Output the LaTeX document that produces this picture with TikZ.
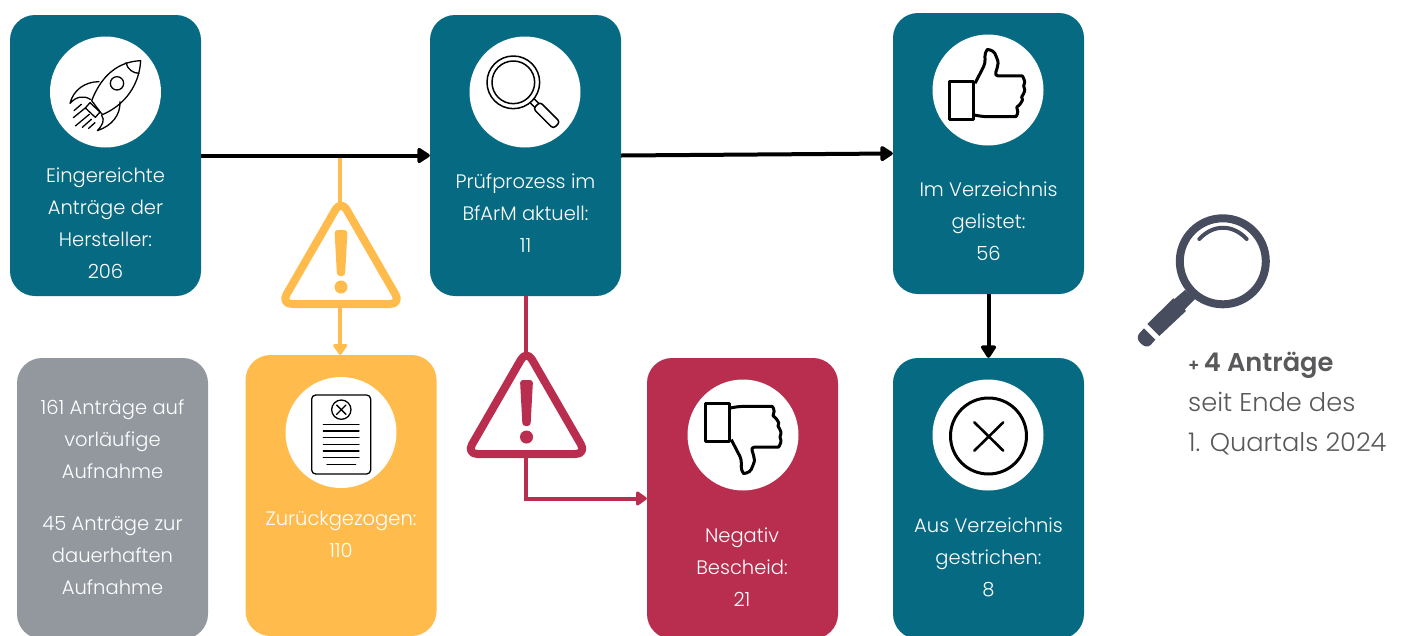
\documentclass[tikz,border=0pt]{standalone}
\usepackage{fontspec}
\setmainfont{Poppins}[UprightFont={* Light},BoldFont={* SemiBold}]
\usetikzlibrary{arrows.meta,calc}
\definecolor{tealc}{HTML}{066B82}
\definecolor{yellowc}{HTML}{FFBC4D}
\definecolor{redc}{HTML}{B92D4E}
\definecolor{greyc}{HTML}{93989F}
\definecolor{inkc}{HTML}{474C5F}
\definecolor{textc}{HTML}{59595B}
\tikzset{
  card/.style={rounded corners=25pt,minimum width=191pt,minimum height=281pt,inner sep=0pt,fill=#1},
  disc/.style={circle,fill=white,minimum size=111pt,inner sep=0pt},
  cardtext/.style={text=white,align=center,font=\fontsize{19.5}{32}\selectfont,inner sep=0pt},
  flow/.style={line width=4pt,draw=black,-{Triangle[length=14pt,width=17pt,round]}},
  sideflow/.style={line width=4pt,draw=#1,-{Triangle[length=12pt,width=16pt,round]}},
  sidetext/.style={anchor=base west,inner sep=0pt,text=textc,font=\fontsize{25.7}{40}\selectfont},
  icon/.style={line width=1.3pt,line cap=round,line join=round,draw=black},
  thumbicon/.style={line width=3pt,line join=round,draw=black}
}
\newcommand{\warnsign}[3]{%
  \begin{scope}[shift={(#1,#2)}]
    \draw[fill=white,draw=#3,line width=8pt,rounded corners=11pt,line join=round]
      (0,-8) -- (-60,96) -- (60,96) -- cycle;
    \fill[#3,rounded corners=3pt] (-6.5,22) -- (6.5,22) -- (4,68) -- (-4,68) -- cycle;
    \fill[#3] (0,79) circle (6.5);
  \end{scope}}
\newcommand{\thumbshape}{%
  \draw[thumbicon] (209,245) rectangle (280,360);
  \draw[thumbicon,rounded corners=4pt] (285,250) -- (316,190) -- (314,158)
    .. controls (322,148) and (340,150) .. (350,172)
    .. controls (356,190) and (350,210) .. (343,228)
    -- (415,228) .. controls (428,228) and (436,245) .. (427,258)
    .. controls (434,268) and (434,280) .. (420,290)
    .. controls (428,300) and (420,315) .. (405,320)
    .. controls (416,335) and (410,350) .. (395,350)
    -- (310,350) -- (282,345);}
\begin{document}
\begin{tikzpicture}[x=1pt,y=-1pt]
\useasboundingbox (0,0) rectangle (1402,635);
\clip (0,0) rectangle (1402,635);
% cards
\node[card=tealc]  (A) at (105.5,155.5) {};
\node[card=tealc]  (B) at (525.5,155.5) {};
\node[card=tealc]  (C) at (988.5,153.5) {};
\node[card=greyc]  (D) at (112.5,498.5) {};
\node[card=yellowc](E) at (341,495.5) {};
\node[card=redc]   (F) at (742.5,498.5) {};
\node[card=tealc]  (G) at (988.5,498.5) {};
% discs
\node[disc] (dA) at (105.5,92) {};
\node[disc] (dB) at (525,92) {};
\node[disc] (dC) at (988,90) {};
\node[disc] (dE) at (341,432.5) {};
\node[disc] (dF) at (743,435) {};
\node[disc] (dG) at (988,435) {};
% texts
\node[cardtext] (tA) at (105.5,223) {Eingereichte\\Anträge der\\Hersteller:\\206};
\node[cardtext] (tB) at (525.5,213) {Prüfprozess im\\BfArM aktuell:\\11};
\node[cardtext] (tC) at (988.5,221) {Im Verzeichnis\\gelistet:\\56};
\node[cardtext] (tD) at (112.5,497) {161 Anträge auf\\vorläufige\\Aufnahme\\[20pt]45 Anträge zur\\dauerhaften\\Aufnahme};
\node[cardtext] (tE) at (341,534) {Zurückgezogen:\\110};
\node[cardtext] (tF) at (742,567) {Negativ\\Bescheid:\\21};
\node[cardtext] (tG) at (988.5,557) {Aus Verzeichnis\\gestrichen:\\8};
% connectors
\coordinate (yt) at ($(A.east)!0.608!(B.west)+(0,1)$);
\draw[sideflow=yellowc] (yt) -- (yt |- E.north);
\draw[sideflow=redc] (B.south) |- (F.west);
\draw[flow] (A) -- (B.west);
\draw[flow] (B.east) -- (C.west);
\draw[flow] (C.south) -- (G.north);
% warning signs
\warnsign{341}{208}{yellowc}
\warnsign{526.5}{358}{redc}
% rocket
\begin{scope}[shift={(50,40)},x=0.3333pt,y=-0.3333pt]
  \draw[icon] (272,62) .. controls (205,65) and (155,105) .. (125,182)
    -- (157,224) .. controls (225,195) and (268,135) .. (272,62) -- cycle;
  \draw[icon] (228,68) .. controls (232,88) and (250,100) .. (267,100);
  \draw[icon] (201,130) circle (20);
  \draw[icon] (120,188) -- (106,204) -- (136,232) -- (150,216) -- cycle;
  \draw[icon] (147,125) .. controls (105,125) and (70,150) .. (60,190)
    .. controls (78,170) and (100,165) .. (121,178);
  \draw[icon] (210,185) .. controls (212,225) and (185,258) .. (142,272)
    .. controls (158,255) and (165,240) .. (155,226);
  \draw[icon] (72,212) -- (94,193);
  \draw[icon] (70,233) -- (107,203);
  \draw[icon] (76,258) -- (118,223);
  \draw[icon] (97,262) -- (124,238);
  \draw[icon] (116,265) -- (135,248);
\end{scope}
% lens
\begin{scope}[shift={(470,30)},x=0.3333pt,y=-0.3333pt]
  \draw[icon,line width=1.5pt] (130,157) circle (79);
  \draw[icon,line width=1.5pt] (130,157) circle (64);
  \draw[icon,line width=1.5pt] (181,219) -- (194,232) (193,207) -- (206,220);
  \draw[icon,line width=1.5pt,rounded corners=3pt] (190,236) -- (210,216) -- (270,276) -- (250,296) -- cycle;
\end{scope}
% thumbs up
\begin{scope}[shift={(880,0)},x=0.3333pt,y=-0.3333pt]
  \thumbshape
\end{scope}
% thumbs down
\begin{scope}[shift={(636.3,523)},x=0.3333pt,y=0.3333pt]
  \thumbshape
\end{scope}
% document
\begin{scope}[shift={(285,375)},x=0.3333pt,y=-0.3333pt]
  \draw[icon,rounded corners=4pt] (80,60) rectangle (257,297);
  \draw[icon] (169,104) circle (29);
  \draw[icon] (155,90) -- (183,118) (183,90) -- (155,118);
  \foreach \yy in {148,168,188,208,228,248} \draw[icon] (115,\yy) -- (222,\yy);
  \draw[icon] (126,268) -- (212,268);
\end{scope}
% cross icon
\draw[line width=3pt] (988.5,436) circle (38);
\draw[line width=2.6pt,line cap=round] (974.3,422.3) -- (1003.3,450.7) (1003.3,422.3) -- (974.3,450.7);
% big magnifier
\draw[inkc,line width=8pt] (1222.8,261.3) circle (43);
\begin{scope}[shift={(1130,205)},x=0.3333pt,y=-0.3333pt]
  \draw[inkc,line width=4pt,line cap=round] (208,102) .. controls (250,57) and (308,57) .. (350,102);
  \fill[inkc] (165,255) -- (195,282) -- (160,318) -- (130,285) -- cycle;
  \fill[inkc] (130,280) -- (168,318) -- (88,393) -- (52,357) -- cycle;
  \fill[inkc] (42,370) -- (76,404) -- (62,420) .. controls (52,428) and (42,425) .. (32,415)
    .. controls (22,405) and (20,395) .. (28,385) -- cycle;
\end{scope}
% side note
\node[sidetext] (nA) at (1188,371) {\textbf{{\fontsize{17}{40}\selectfont +}\,4 Anträge}};
\node[sidetext] (nB) at (1188,411) {seit Ende des};
\node[sidetext] (nC) at (1188,451) {1. Quartals 2024};
\end{tikzpicture}
\end{document}
